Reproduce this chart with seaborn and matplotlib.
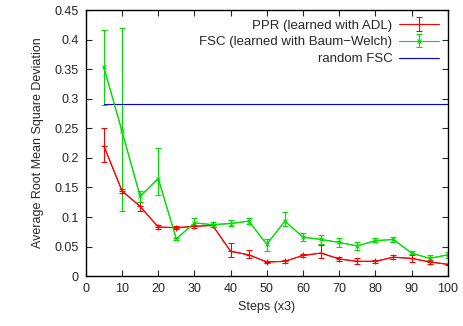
import matplotlib
matplotlib.use('Agg')
import numpy as np
import matplotlib.pyplot as plt
import seaborn as sns

# ==================== 数据 ====================
steps = [5, 10, 15, 20, 25, 30, 35, 40, 45, 50, 55, 60, 65, 70, 75, 80, 85, 90, 95, 100]

ppr_mean = [0.220, 0.144, 0.118, 0.083, 0.082, 0.084, 0.086, 0.042, 0.036, 0.024,
            0.025, 0.035, 0.039, 0.029, 0.025, 0.025, 0.032, 0.030, 0.024, 0.020]
ppr_low = [0.193, 0.141, 0.110, 0.080, 0.079, 0.081, 0.083, 0.032, 0.030, 0.022,
           0.023, 0.033, 0.030, 0.025, 0.021, 0.023, 0.029, 0.024, 0.021, 0.019]
ppr_high = [0.251, 0.147, 0.126, 0.087, 0.085, 0.087, 0.089, 0.056, 0.044, 0.026,
            0.028, 0.037, 0.052, 0.033, 0.030, 0.027, 0.035, 0.035, 0.027, 0.021]

fsc_mean = [0.353, 0.245, 0.135, 0.165, 0.063, 0.090, 0.087, 0.089, 0.093, 0.054,
            0.093, 0.066, 0.062, 0.057, 0.051, 0.060, 0.062, 0.039, 0.030, 0.036]
fsc_low = [0.290, 0.110, 0.126, 0.138, 0.061, 0.085, 0.083, 0.085, 0.088, 0.043,
           0.085, 0.060, 0.055, 0.049, 0.044, 0.057, 0.058, 0.037, 0.025, 0.031]
fsc_high = [0.417, 0.420, 0.144, 0.216, 0.065, 0.098, 0.091, 0.095, 0.099, 0.063,
            0.108, 0.073, 0.069, 0.065, 0.058, 0.064, 0.067, 0.042, 0.035, 0.040]

random_fsc = 0.291

labels = ['PPR (learned with ADL)', 'FSC (learned with Baum\u2212Welch)', 'random FSC']

# ==================== 画图 ====================
sns.set_style('ticks')
plt.rcParams['font.family'] = ['Liberation Sans', 'DejaVu Sans']

fig, ax = plt.subplots(figsize=(4.64, 3.26), dpi=100)
fig.subplots_adjust(left=0.185, right=0.965, bottom=0.153, top=0.969)


def yerr_of(mean, low, high):
    m = np.array(mean)
    return [m - np.array(low), np.array(high) - m]


sns.lineplot(x=steps, y=ppr_mean, color='#ff0000', lw=0.8, ax=ax, legend=False)
h_ppr = ax.errorbar(steps, ppr_mean, yerr=yerr_of(ppr_mean, ppr_low, ppr_high), fmt='-',
                    color='#ff0000', lw=0.8, elinewidth=0.8, capsize=2, capthick=0.8,
                    marker='+', markersize=4, markeredgewidth=0.8, label=labels[0])

sns.lineplot(x=steps, y=fsc_mean, color='#00e000', lw=0.8, ax=ax, legend=False)
h_fsc = ax.errorbar(steps, fsc_mean, yerr=yerr_of(fsc_mean, fsc_low, fsc_high), fmt='-',
                    color='#00e000', lw=0.8, elinewidth=0.8, capsize=2, capthick=0.8,
                    marker='x', markersize=3, markeredgewidth=0.8, label=labels[1])

h_rnd = ax.axhline(random_fsc, xmin=0.05, xmax=1.0, color='#0000ff', lw=0.8, label=labels[2])

ax.set_xlim(0, 100)
ax.set_ylim(0, 0.45)
ax.set_xticks(np.arange(0, 101, 10))
ax.set_yticks(np.arange(0, 0.451, 0.05))
ax.set_yticklabels(['0', '0.05', '0.1', '0.15', '0.2', '0.25', '0.3', '0.35', '0.4', '0.45'])
ax.tick_params(direction='in', top=True, right=True, labelsize=9, length=4, width=0.8, pad=5)
for s in ax.spines.values():
    s.set_visible(True)
    s.set_linewidth(1)
    s.set_color('black')

ax.set_xlabel('Steps (x3)', fontsize=9)
ax.set_ylabel('Average Root Mean Square Deviation', fontsize=9, labelpad=8)

ax.legend([h_ppr, h_fsc, h_rnd], labels, loc='upper right', frameon=False, fontsize=9.5,
          markerfirst=False, handlelength=3, borderaxespad=0.3, labelspacing=0.35,
          handletextpad=0.5)

plt.savefig('out.png', dpi=100)
plt.close()
